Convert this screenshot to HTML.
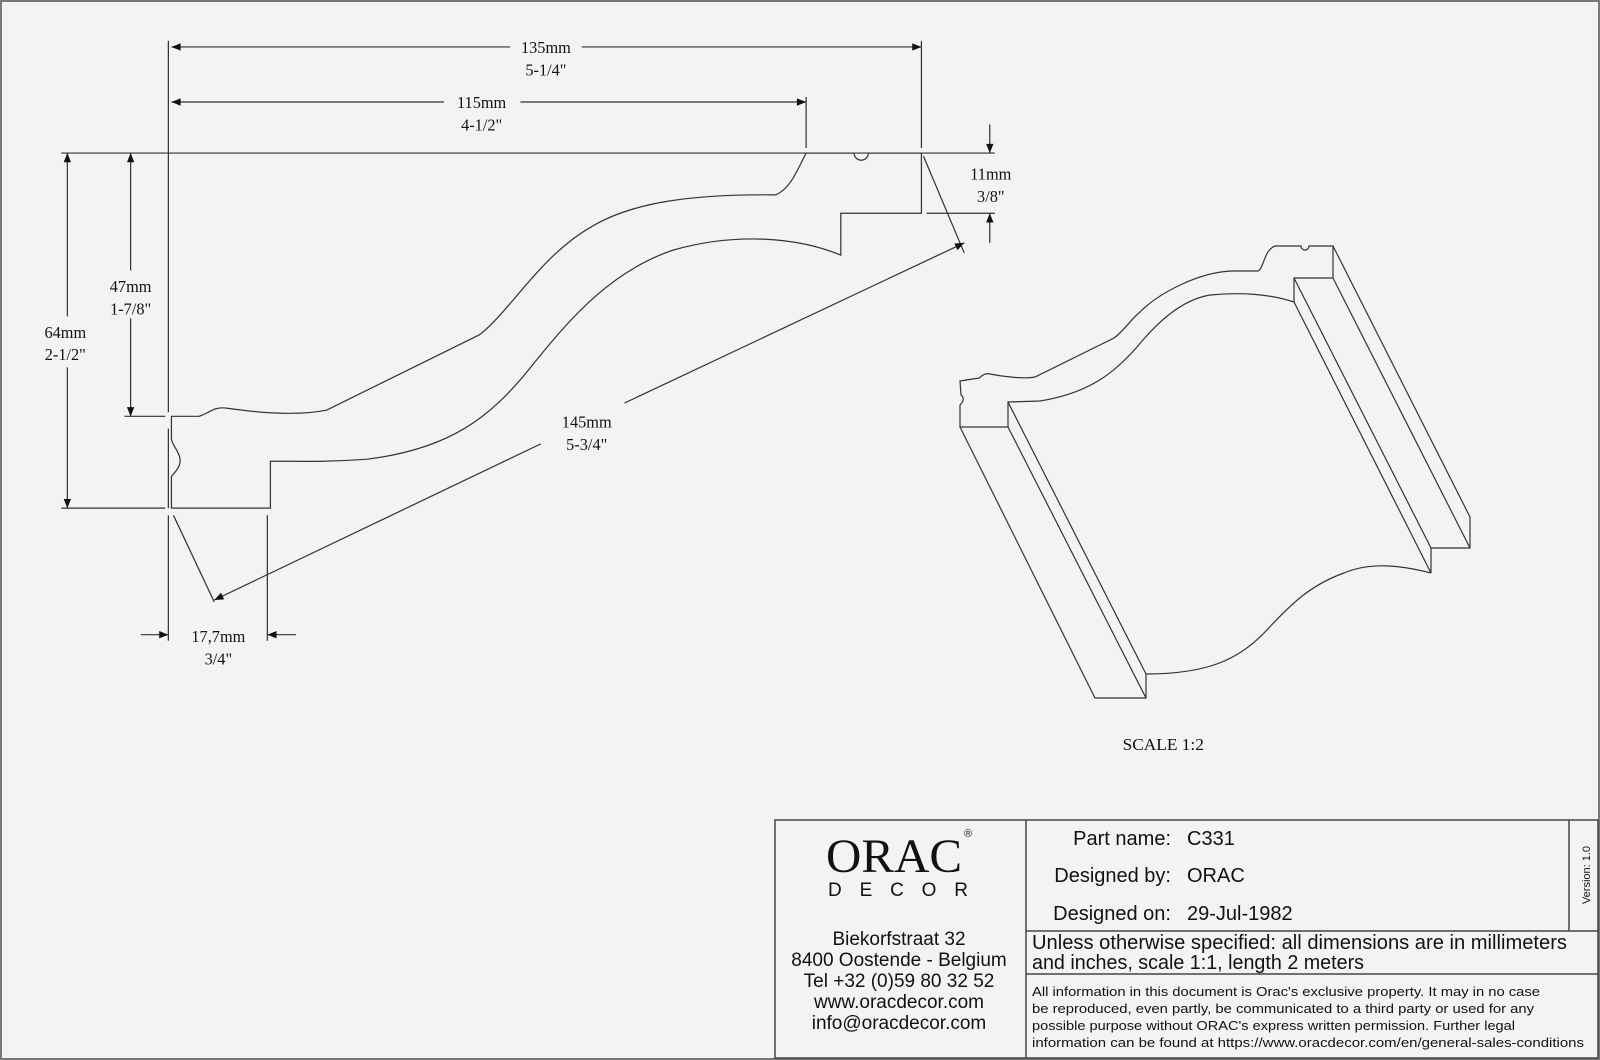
<!DOCTYPE html>
<html><head><meta charset="utf-8"><style>
html,body{margin:0;padding:0;background:#f3f3f3;}
svg{display:block}
.d{font-family:"Liberation Serif",serif;font-size:16px;fill:#111;text-anchor:middle}
.s{font-family:"Liberation Sans",sans-serif;fill:#111}
</style></head><body>
<svg width="1600" height="1060" viewBox="0 0 1600 1060" xmlns="http://www.w3.org/2000/svg">
<defs>
<marker id="a" viewBox="0 0 10 10" refX="10" refY="5" markerWidth="16" markerHeight="9" markerUnits="userSpaceOnUse" orient="auto"><path d="M0,1 L10,5 L0,9z" fill="#111"/></marker>
</defs>
<rect x="1" y="1" width="1598" height="1058" fill="#f3f3f3" stroke="#777" stroke-width="2"/>
<g transform="scale(1.0204)" stroke="#333" stroke-width="1.2" fill="none">
<path d="M168,408 L195,408 C205,405 210,398 222,400 C250,404 290,408 320,402 L470,328 C500,305 530,250 580,222 C620,198 680,190 760,191 C775,185 782,165 790,150 L837,150 A7,7 0 0 0 851,150 L903,150 L903,209 L824,209 L824,250 C780,232 720,228 660,245 C600,265 560,310 520,360 C480,410 440,440 360,450 C320,453 290,452 265,452 L265,498 L168,498 L168,467 C172,462 180,455 175,445 C172,438 168,434 168,430 Z"/>
<path d="M165,40 V404 M165,420 V498 M903,40 V145 M790,95 V145 M60,150 H975 M122,408 H162 M60,498 H162 M908,209 H975 M905,153 L945,248 M170,505 L210,590 M165,505 V628 M262,505 V628"/>
<path d="M500,46 H168" marker-end="url(#a)"/><path d="M570,46 H903" marker-end="url(#a)"/>
<path d="M435,100 H168" marker-end="url(#a)"/><path d="M510,100 H790" marker-end="url(#a)"/>
<path d="M66,310 V150" marker-end="url(#a)"/><path d="M66,360 V498" marker-end="url(#a)"/>
<path d="M128,265 V150" marker-end="url(#a)"/><path d="M128,312 V408" marker-end="url(#a)"/>
<path d="M970,122 V150" marker-end="url(#a)"/><path d="M970,238 V209" marker-end="url(#a)"/>
<path d="M612,395 L945,238" marker-end="url(#a)"/><path d="M530,435 L210,588" marker-end="url(#a)"/>
<path d="M138,622 H165" marker-end="url(#a)"/><path d="M290,622 H262" marker-end="url(#a)"/>
</g>
<g transform="scale(1.0204)">
<text class="d" x="535" y="52">135mm</text><text class="d" x="535" y="74">5-1/4"</text>
<text class="d" x="472" y="106">115mm</text><text class="d" x="472" y="128">4-1/2"</text>
<text class="d" x="64" y="331">64mm</text><text class="d" x="64" y="353">2-1/2"</text>
<text class="d" x="128" y="286">47mm</text><text class="d" x="128" y="308">1-7/8"</text>
<text class="d" x="971" y="176">11mm</text><text class="d" x="971" y="198">3/8"</text>
<text class="d" x="575" y="419">145mm</text><text class="d" x="575" y="441">5-3/4"</text>
<text class="d" x="214" y="629">17,7mm</text><text class="d" x="214" y="651">3/4"</text>
<text class="d" x="1140" y="735" style="font-size:17px">SCALE  1:2</text>
</g>
<g stroke="#333" stroke-width="1.2" fill="none">
<path d="M960,381 L979,378 C983,375 985,373 990,374 C1005,377 1025,379 1035,377 L1114,338 C1125,330 1130,320 1140,312 C1160,292 1200,272 1232,271 L1258,271 C1264,268 1264,250 1275,246 L1301,246 A4,4 0 0 0 1309,246 L1333,246 L1333,278 L1294,278 L1294,302 C1270,294 1240,292 1210,295 C1180,300 1155,325 1137,347 C1115,372 1090,393 1040,401 L1008,402 L1008,427 L960,427 L960,405 C963,402 965,398 961,395 Z"/>
<path d="M1333,246 L1470,517 L1470,548 L1431,548 L1431,573 M1333,278 L1470,548 M1294,278 L1431,548 M1294,302 L1431,573"/>
<path d="M1431,573 C1400,565 1370,562 1344,573 C1310,585 1290,605 1265,632 C1240,658 1210,674 1146,674"/>
<path d="M960,427 L1095,698 L1146,698 L1146,674 M1008,427 L1146,698 M1008,402 L1146,674"/>
</g>
<g stroke="#444" stroke-width="1.5" fill="none">
<rect x="775" y="820" width="823" height="238"/>
<path d="M1026,820 V1058 M1569,820 V931 M1026,931 H1598 M1026,974 H1598"/>
</g>
<text x="826" y="872" style="font-family:'Liberation Serif',serif;font-size:48px;fill:#111" textLength="136" lengthAdjust="spacingAndGlyphs">ORAC</text>
<text x="964" y="837" style="font-family:'Liberation Sans',sans-serif;font-size:11px;fill:#111">®</text>
<text x="828" y="896" class="s" style="font-size:19px" textLength="140">DECOR</text>
<g class="s" style="font-size:19px;text-anchor:middle">
<text x="899" y="945" class="s">Biekorfstraat 32</text>
<text x="899" y="966" class="s">8400 Oostende - Belgium</text>
<text x="899" y="987" class="s">Tel  +32 (0)59 80 32 52</text>
<text x="899" y="1008" class="s">www.oracdecor.com</text>
<text x="899" y="1029" class="s">info@oracdecor.com</text>
</g>
<g style="font-family:'Liberation Sans',sans-serif;font-size:20px;fill:#111">
<text x="1171" y="845" text-anchor="end">Part name:</text><text x="1187" y="845">C331</text>
<text x="1171" y="882" text-anchor="end">Designed by:</text><text x="1187" y="882">ORAC</text>
<text x="1171" y="920" text-anchor="end">Designed on:</text><text x="1187" y="920">29-Jul-1982</text>
<text x="1032" y="949" textLength="535" lengthAdjust="spacingAndGlyphs">Unless otherwise specified: all dimensions are in millimeters</text>
<text x="1032" y="969" textLength="332" lengthAdjust="spacingAndGlyphs">and inches, scale 1:1, length 2 meters</text>
</g>
<g style="font-family:'Liberation Sans',sans-serif;font-size:13px;fill:#111">
<text x="1032" y="996" textLength="508" lengthAdjust="spacingAndGlyphs">All information in this document is Orac's exclusive property.  It may in no case</text>
<text x="1032" y="1013" textLength="502" lengthAdjust="spacingAndGlyphs">be reproduced, even partly, be communicated to a third party or used for any</text>
<text x="1032" y="1030" textLength="483" lengthAdjust="spacingAndGlyphs">possible purpose without ORAC's express written permission. Further legal</text>
<text x="1032" y="1047" textLength="552" lengthAdjust="spacingAndGlyphs">information can be found at https://www.oracdecor.com/en/general-sales-conditions</text>
</g>
<text transform="translate(1590,875) rotate(-90)" text-anchor="middle" style="font-family:'Liberation Sans',sans-serif;font-size:11px;fill:#111">Version: 1.0</text>
</svg>
</body></html>
